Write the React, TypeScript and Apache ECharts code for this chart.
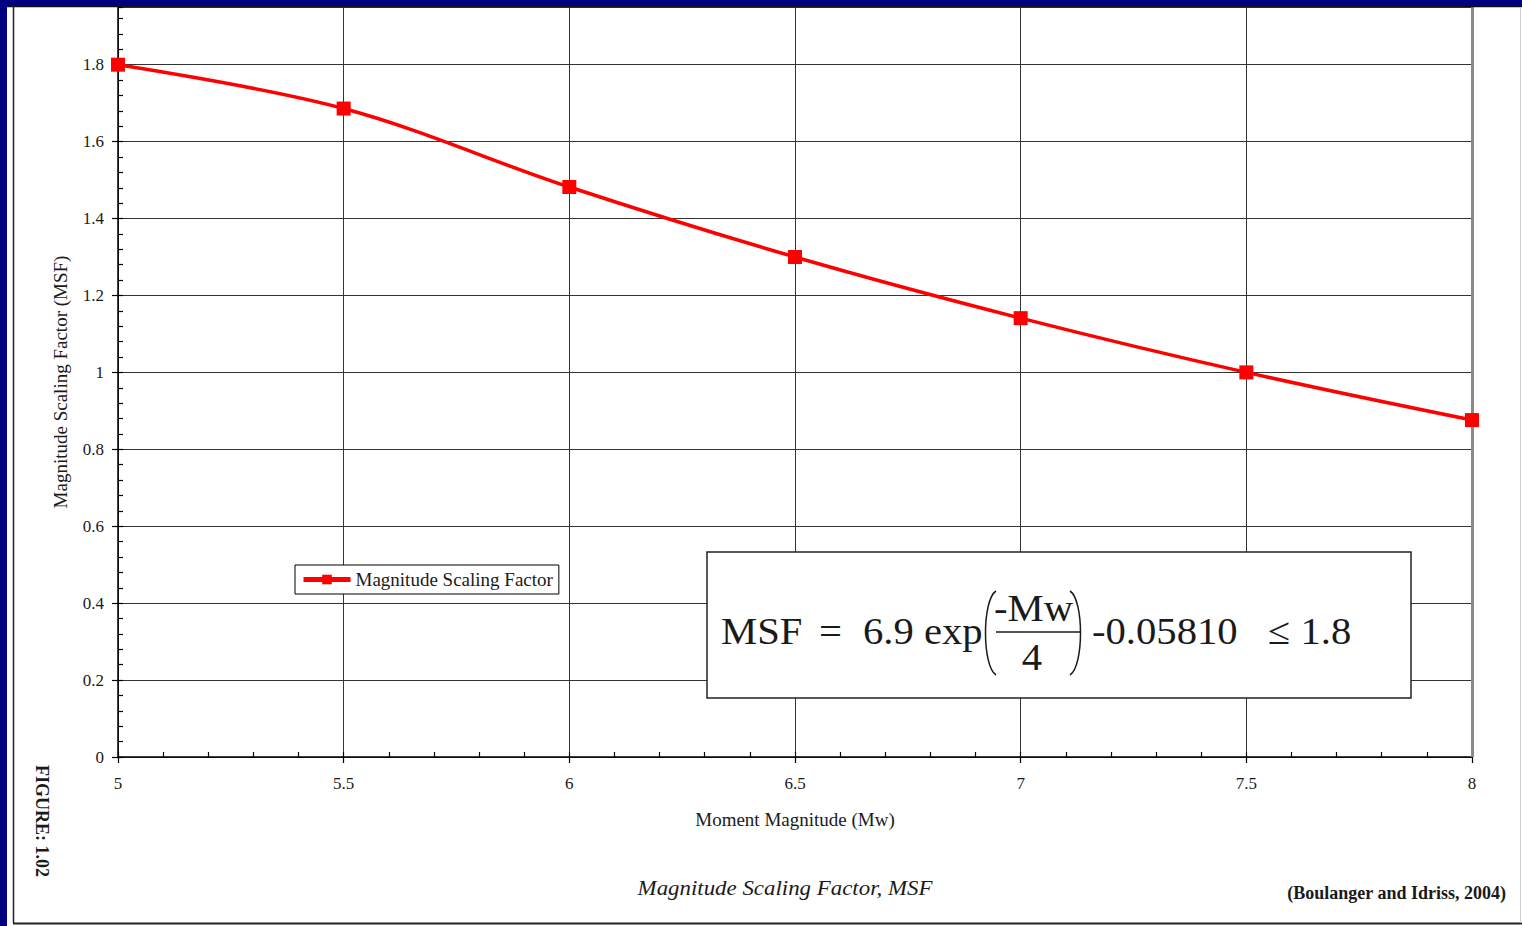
import React, { useEffect, useRef } from 'react';
import * as echarts from 'echarts';

// ---- data ----
const magnitudes = [5, 5.5, 6, 6.5, 7, 7.5, 8];
const msfValues = [1.8, 1.686, 1.482, 1.3, 1.141, 1.0, 0.876];
const seriesName = 'Magnitude Scaling Factor';
const xTitle = 'Moment Magnitude (Mw)';
const yTitle = 'Magnitude Scaling Factor (MSF)';
const caption = 'Magnitude Scaling Factor, MSF';
const citation = '(Boulanger and Idriss, 2004)';
const figureLabel = 'FIGURE: 1.02';
const formulaParts = ['MSF', '=', '6.9 exp', '-Mw', '4', '-0.05810', '\u2264 1.8'];

const SERIF = '"Liberation Serif", "Times New Roman", serif';
const INK = '#1a1a1a';

export default function App() {
  const ref = useRef<HTMLDivElement>(null);
  useEffect(() => {
    if (!ref.current) return;
    const chart = echarts.init(ref.current, undefined, { renderer: 'svg' });
    const fs = 38;
    const ftxt = (text: string, x: number, y: number, align = 'left') => ({
      type: 'text',
      x,
      y,
      z: 101,
      scaleX: 1.07,
      style: { text, fill: INK, fontSize: fs, fontFamily: SERIF, textAlign: align, textVerticalAlign: 'middle' },
    });
    const option: any = {
      animation: false,
      backgroundColor: '#ffffff',
      grid: { left: 118, right: 50, top: 7, bottom: 169 },
      legend: {
        data: [seriesName],
        left: 295,
        top: 565,
        padding: [5, 6, 5, 6],
        itemWidth: 47,
        itemHeight: 12,
        borderColor: '#000',
        borderWidth: 1,
        borderRadius: 0,
        backgroundColor: '#fff',
        lineStyle: { width: 5 },
        textStyle: { fontFamily: SERIF, fontSize: 19, color: INK },
      },
      xAxis: [
        {
          type: 'value',
          position: 'bottom',
          min: 5,
          max: 8,
          interval: 0.5,
          name: xTitle,
          nameLocation: 'middle',
          nameGap: 53,
          nameTextStyle: { fontFamily: SERIF, fontSize: 19, color: INK },
          axisLine: { show: true, lineStyle: { color: '#000', width: 1.5 } },
          axisTick: { show: true, inside: false, length: 6, lineStyle: { color: '#000', width: 1.2 } },
          axisLabel: { fontFamily: SERIF, fontSize: 17, color: INK, margin: 18 },
          splitLine: { show: true, lineStyle: { color: '#333', width: 1 } },
        },
        {
          type: 'value',
          position: 'bottom',
          min: 5,
          max: 8,
          interval: 0.1,
          axisLine: { show: false },
          axisTick: { show: true, inside: true, length: 5, lineStyle: { color: '#000', width: 1.2 } },
          axisLabel: { show: false },
          splitLine: { show: false },
        },
      ],
      yAxis: [
        {
          type: 'value',
          position: 'left',
          min: 0,
          max: 1.95,
          interval: 0.2,
          name: yTitle,
          nameLocation: 'middle',
          nameGap: 48,
          nameTextStyle: { fontFamily: SERIF, fontSize: 19, color: INK },
          axisLine: { show: true, lineStyle: { color: '#000', width: 1.5 } },
          axisTick: { show: true, inside: false, length: 6, lineStyle: { color: '#000', width: 1.2 } },
          axisLabel: { fontFamily: SERIF, fontSize: 17, color: INK, margin: 14, showMaxLabel: false },
          splitLine: { show: true, lineStyle: { color: '#333', width: 1 } },
        },
        {
          type: 'value',
          position: 'left',
          min: 0,
          max: 1.95,
          interval: 0.04,
          axisLine: { show: false },
          axisTick: { show: true, inside: true, length: 5, lineStyle: { color: '#000', width: 1.2 } },
          axisLabel: { show: false },
          splitLine: { show: false },
        },
      ],
      series: [
        {
          name: seriesName,
          type: 'line',
          data: magnitudes.map((m, i) => [m, msfValues[i]]),
          smooth: 0.35,
          clip: false,
          symbol: 'rect',
          symbolSize: 14,
          lineStyle: { color: '#ff0000', width: 3.5 },
          itemStyle: { color: '#ff0000' },
          z: 5,
          markLine: {
            silent: true,
            symbol: 'none',
            label: { show: false },
            lineStyle: { color: '#8a8a8a', width: 3, type: 'solid' },
            data: [{ xAxis: 8 }],
            z: 3,
          },
        },
      ],
      graphic: [
        // page frame
        { type: 'rect', z: 200, shape: { x: 0, y: 0, width: 7, height: 926 }, style: { fill: '#000080' } },
        { type: 'rect', z: 200, shape: { x: 0, y: 0, width: 1522, height: 6 }, style: { fill: '#000080' } },
        { type: 'line', z: 200, shape: { x1: 7, y1: 6.5, x2: 1522, y2: 6.5 }, style: { stroke: '#111', lineWidth: 1.5 } },
        { type: 'line', z: 200, shape: { x1: 13.5, y1: 7, x2: 13.5, y2: 923 }, style: { stroke: '#222', lineWidth: 1.5 } },
        { type: 'line', z: 200, shape: { x1: 13, y1: 923.5, x2: 1522, y2: 923.5 }, style: { stroke: '#222', lineWidth: 2 } },
        { type: 'line', z: 200, shape: { x1: 1520.5, y1: 7, x2: 1520.5, y2: 923 }, style: { stroke: '#cfcfcf', lineWidth: 1 } },
        // formula box
        { type: 'rect', z: 100, shape: { x: 707, y: 552, width: 704, height: 146 }, style: { fill: '#fff', stroke: '#222', lineWidth: 1.5 } },
        ftxt(formulaParts[0], 721, 631),
        ftxt(formulaParts[1], 819, 631),
        ftxt(formulaParts[2], 863, 631),
        ftxt(formulaParts[3], 994, 608),
        ftxt(formulaParts[4], 1032, 657, 'center'),
        ftxt(formulaParts[5], 1092, 631),
        ftxt(formulaParts[6], 1268, 631),
        { type: 'line', z: 101, shape: { x1: 996, y1: 632, x2: 1081, y2: 632 }, style: { stroke: INK, lineWidth: 1.5 } },
        {
          type: 'bezierCurve', z: 101,
          shape: { x1: 996, y1: 591, cpx1: 982, cpy1: 600, cpx2: 982, cpy2: 666, x2: 996, y2: 675 },
          style: { stroke: INK, lineWidth: 1.5, fill: null },
        },
        {
          type: 'bezierCurve', z: 101,
          shape: { x1: 1070, y1: 591, cpx1: 1084, cpy1: 600, cpx2: 1084, cpy2: 666, x2: 1070, y2: 675 },
          style: { stroke: INK, lineWidth: 1.5, fill: null },
        },
        // captions
        {
          type: 'text', z: 100, x: 785, y: 888, scaleX: 1.09,
          style: { text: caption, fill: INK, fontSize: 21, fontStyle: 'italic', fontFamily: SERIF, textAlign: 'center', textVerticalAlign: 'middle' },
        },
        {
          type: 'text', z: 100, x: 1506, y: 893,
          style: { text: citation, fill: INK, fontSize: 18, fontWeight: 'bold', fontFamily: SERIF, textAlign: 'right', textVerticalAlign: 'middle' },
        },
        {
          type: 'text', z: 100, x: 42, y: 821, rotation: -Math.PI / 2,
          style: { text: figureLabel, fill: INK, fontSize: 18, fontWeight: 'bold', fontFamily: SERIF, textAlign: 'center', textVerticalAlign: 'middle' },
        },
      ],
    };
    chart.setOption(option);
    return () => chart.dispose();
  }, []);
  return (
    <div
      ref={ref}
      style={{ position: 'fixed', left: 0, top: 0, width: 1522, height: 926 }}
    />
  );
}
